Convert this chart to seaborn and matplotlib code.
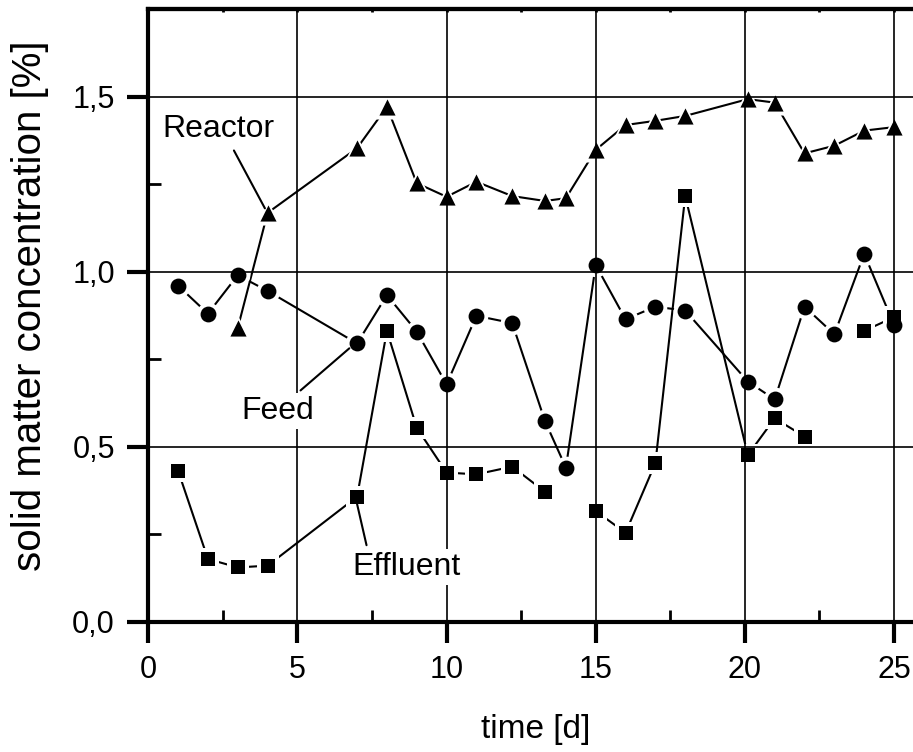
import numpy as np
import pandas as pd
import matplotlib
matplotlib.use("Agg")
import matplotlib.pyplot as plt
from matplotlib.ticker import MultipleLocator, FuncFormatter
import seaborn as sns

# sampling days (same for all three series)
days = [1, 2, 3, 4, 7, 8, 9, 10, 11, 12.2, 13.3, 14, 15, 16, 17, 18, 20.1, 21, 22, 23, 24, 25]

# solid matter concentration [%]
feed = [0.96, 0.88, 0.99, 0.945, 0.795, 0.933, 0.829, 0.678, 0.874, 0.853, 0.573,
        0.44, 1.019, 0.864, 0.90, 0.889, 0.686, 0.635, 0.90, 0.821, 1.051, 0.848]
effluent = [0.431, 0.179, 0.155, 0.16, 0.357, 0.831, 0.554, 0.426, 0.421, 0.443, 0.371,
            np.nan, 0.316, 0.254, 0.453, 1.216, 0.476, 0.581, 0.529, np.nan, 0.831, 0.87]
reactor = [np.nan, np.nan, 0.839, 1.168, 1.353, 1.471, 1.253, 1.214, 1.257, 1.216, 1.202,
           1.21, 1.348, 1.419, 1.431, 1.445, 1.493, 1.483, 1.338, 1.36, 1.403, 1.413]

sns.set_style("white")
plt.rcParams["font.family"] = ["Liberation Sans", "DejaVu Sans"]
plt.rcParams["text.color"] = "black"
plt.rcParams["axes.labelcolor"] = "black"

fig = plt.figure(figsize=(9.13, 7.52), dpi=100)
# the original figure is cropped on the right, so the axes run past the canvas
ax = fig.add_axes([0.1624, 0.1733, 0.8495, 0.8145])


def make_frame(values):
    df = pd.DataFrame({"day": days, "conc": values})
    df["seg"] = df["conc"].isna().cumsum()  # break the line where a value is missing
    return df.dropna()


series = [
    (make_frame(reactor), "^", 135, 300),
    (make_frame(feed), "o", 130, 290),
    (make_frame(effluent), "s", 100, 240),
]

for df, mk, size, halo in series:
    sns.lineplot(data=df, x="day", y="conc", units="seg", estimator=None, sort=False,
                 color="black", linewidth=1.5, ax=ax, zorder=2)
    # white halo so the connecting lines stop short of the symbols
    sns.scatterplot(data=df, x="day", y="conc", marker=mk, s=halo, color="white",
                    linewidth=0, ax=ax, zorder=2.2)
    sns.scatterplot(data=df, x="day", y="conc", marker=mk, s=size, color="black",
                    linewidth=0, ax=ax, zorder=3)

ax.set_xlim(0, 26)
ax.set_ylim(0, 1.75)
ax.xaxis.set_major_locator(MultipleLocator(5))
ax.xaxis.set_minor_locator(MultipleLocator(2.5))
ax.yaxis.set_major_locator(MultipleLocator(0.5))
ax.yaxis.set_minor_locator(MultipleLocator(0.25))
ax.yaxis.set_major_formatter(FuncFormatter(lambda v, p: f"{v:.1f}".replace(".", ",")))

ax.set_axisbelow(False)
ax.grid(True, which="major", color="black", linewidth=1.2)
ax.tick_params(axis="both", which="both", bottom=True, left=True, top=False, right=False)
ax.tick_params(axis="both", which="major", direction="out", length=15, width=3,
               labelsize=22, pad=9, color="black", labelcolor="black")
ax.tick_params(axis="both", which="minor", direction="in", length=9, width=2, color="black")
for side in ["left", "bottom", "top", "right"]:
    ax.spines[side].set_color("black")
    ax.spines[side].set_linewidth(3)

# little inward ticks on the top frame
top = ax.secondary_xaxis("top")
top.xaxis.set_major_locator(MultipleLocator(5))
top.xaxis.set_minor_locator(MultipleLocator(2.5))
top.tick_params(which="both", direction="in", length=2.5, width=2, color="black",
                labeltop=False)
top.spines["top"].set_linewidth(3)

ax.set_xlabel("time [d]", fontsize=24)
ax.set_ylabel("solid matter concentration [%]", fontsize=29)
ax.xaxis.set_label_coords(0.5, -0.1507)
ax.yaxis.set_label_coords(-0.128, 0.515)

box = dict(facecolor="white", edgecolor="none", pad=2)
line = dict(arrowstyle="-", color="black", linewidth=1.5, shrinkA=3, shrinkB=0)
ax.annotate("Reactor", xy=(3.91, 1.181), xytext=(2.34, 1.385), ha="center", va="baseline",
            fontsize=23, color="black", bbox=box,
            arrowprops=dict(line, relpos=(0.61, 0.0)), zorder=4)
ax.annotate("Feed", xy=(6.74, 0.781), xytext=(4.35, 0.579), ha="center", va="baseline",
            fontsize=23, color="black", bbox=box,
            arrowprops=dict(line, relpos=(0.72, 1.0)), zorder=4)
ax.annotate("Effluent", xy=(7.0, 0.336), xytext=(8.64, 0.133), ha="center", va="baseline",
            fontsize=23, color="black", bbox=box,
            arrowprops=dict(line, relpos=(0.15, 1.0)), zorder=4)

fig.savefig("out.png", dpi=100)
